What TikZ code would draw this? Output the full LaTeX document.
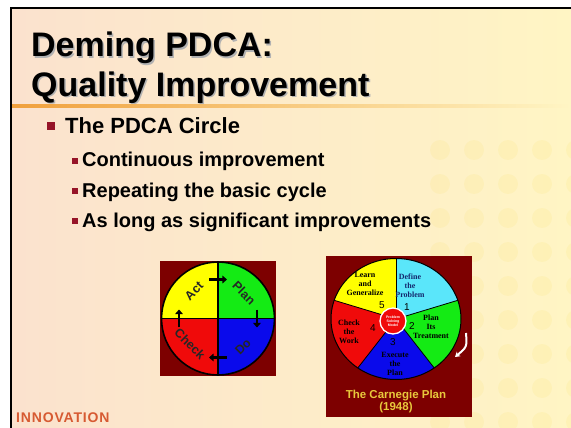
\documentclass[tikz,border=0pt]{standalone}
\usepackage{fontspec}
\setmainfont{Liberation Sans}
\newfontfamily\pieserif{Liberation Serif}
\usetikzlibrary{calc,arrows.meta}

\definecolor{bgleft}{RGB}{251,226,206}
\definecolor{bgright}{RGB}{255,245,196}
\definecolor{titleline}{RGB}{240,160,60}
\definecolor{bulletred}{RGB}{150,20,40}
\definecolor{boxred}{RGB}{125,0,0}
\definecolor{pieyellow}{RGB}{255,255,0}
\definecolor{piegreen}{RGB}{20,235,20}
\definecolor{pieblue}{RGB}{10,10,235}
\definecolor{piered}{RGB}{240,10,10}
\definecolor{piecyan}{RGB}{90,230,250}
\definecolor{carnegie}{RGB}{232,200,60}
\definecolor{innov}{RGB}{215,90,50}

\tikzset{
  slidetext/.style={anchor=base west, inner sep=0pt},
  bigbullet/.style={fill=bulletred, minimum size=8pt, inner sep=0pt},
  smallbullet/.style={fill=bulletred, minimum size=6pt, inner sep=0pt},
  quadlabel/.style={inner sep=0pt, text=black!85, font=\fontsize{12.5}{13}\selectfont\bfseries},
  pielabel/.style={inner sep=0pt, align=center, font=\pieserif\bfseries\fontsize{8}{9}\selectfont},
  pienum/.style={inner sep=0pt, font=\fontsize{10}{10}\selectfont},
  cyclearrow/.style={line width=2.8pt, -{Triangle[length=4.5pt,width=7.5pt]}}
}

\begin{document}
\begin{tikzpicture}[x=1pt,y=-1pt]

\useasboundingbox (0,0) rectangle (571,428);
\fill[white] (0,0) rectangle (571,428);
\shade[left color=bgleft, right color=bgright] (11,8) rectangle (571,428);
\foreach \i in {440,474,508,542,576}
  \foreach \j in {150,184,218,252,286,320,354,388,422}
    \fill[yellow!70!orange, opacity=0.07] (\i,\j) circle (10);

\shade[left color=titleline, right color=bgright] (11,104.5) rectangle (571,107.5);
\draw[line width=2.5pt] (11,428) -- (11,7.8) -- (571,7.8);

% title
\node (shadow1) at (32.5,58.5) [slidetext, text=black!30, font=\fontsize{34}{36}\selectfont\bfseries] {Deming PDCA:};
\node (shadow2) at (32.5,97.5) [slidetext, text=black!30, font=\fontsize{34}{36}\selectfont\bfseries] {Quality Improvement};
\node (title1) at (31,57) [slidetext, font=\fontsize{34}{36}\selectfont\bfseries] {Deming PDCA:};
\node (title2) at (31,96) [slidetext, font=\fontsize{34}{36}\selectfont\bfseries] {Quality Improvement};

% bullets
\node (b0) at (51,126.5) [bigbullet] {};
\node (t0) at (65,133) [slidetext, font=\fontsize{22}{24}\selectfont\bfseries] {The PDCA Circle};
\node (b1) at (75,160.5) [smallbullet] {};
\node (t1) at (82,167) [slidetext, font=\fontsize{20}{22}\selectfont\bfseries] {Continuous improvement};
\node (b2) at (75,190.5) [smallbullet] {};
\node (t2) at (82,197) [slidetext, font=\fontsize{20}{22}\selectfont\bfseries] {Repeating the basic cycle};
\node (b3) at (75,220.5) [smallbullet] {};
\node (t3) at (82,227) [slidetext, font=\fontsize{20}{22}\selectfont\bfseries] {As long as significant improvements};

% PDCA wheel
\fill[boxred] (160,261) rectangle (276,376);
\begin{scope}[shift={(218,318.5)},y=1pt]
  \fill[pieyellow] (0,0) -- (90:56.5) arc[start angle=90,end angle=180,radius=56.5] -- cycle;
  \fill[piered] (0,0) -- (180:56.5) arc[start angle=180,end angle=270,radius=56.5] -- cycle;
  \fill[pieblue] (0,0) -- (270:56.5) arc[start angle=270,end angle=360,radius=56.5] -- cycle;
  \fill[piegreen] (0,0) -- (0:56.5) arc[start angle=0,end angle=90,radius=56.5] -- cycle;
  \draw[line width=1.2pt] (90:56.5) -- (270:56.5) (0:56.5) -- (180:56.5);
  \draw[line width=1.6pt] (0,0) circle (56.5);
  \draw[cyclearrow] (103:40) -- (77:40);
  \draw[cyclearrow] (13:40) -- (-13:40);
  \draw[cyclearrow] (-77:40) -- (-103:40);
  \draw[cyclearrow] (193:40) -- (167:40);
\end{scope}
\node (act) at (194,291) [quadlabel, rotate=45] {Act};
\node (plan) at (244,293) [quadlabel, rotate=-45] {Plan};
\node (do) at (243,347) [quadlabel, rotate=45] {Do};
\node (check) at (190,344) [quadlabel, rotate=-45] {Check};

% Carnegie wheel
\fill[boxred] (326,256) rectangle (472,417);
\begin{scope}[shift={(396,319)},y=1pt]
  \fill[piecyan] (0,0) -- (18:65 and 60.5) arc[start angle=18,end angle=90,x radius=65,y radius=60.5] -- cycle;
  \fill[pieyellow] (0,0) -- (90:65 and 60.5) arc[start angle=90,end angle=162,x radius=65,y radius=60.5] -- cycle;
  \fill[piered] (0,0) -- (162:65 and 60.5) arc[start angle=162,end angle=234,x radius=65,y radius=60.5] -- cycle;
  \fill[pieblue] (0,0) -- (234:65 and 60.5) arc[start angle=234,end angle=306,x radius=65,y radius=60.5] -- cycle;
  \fill[piegreen] (0,0) -- (306:65 and 60.5) arc[start angle=306,end angle=378,x radius=65,y radius=60.5] -- cycle;
  \foreach \a in {18,90,162,234,306}
    \draw[line width=0.8pt] (0,0) -- (\a:65 and 60.5);
  \draw[line width=1pt] (0,0) ellipse[x radius=65,y radius=60.5];
  \fill[piered, draw=white, line width=1.3pt] (-3,-2) circle (13);
\end{scope}
\node (psm) at (393,321) [inner sep=0pt, align=center, text=white, font=\fontsize{3.5}{4}\selectfont\bfseries] {Problem\\Solving\\Model};
\node (learn) at (365,284) [pielabel] {Learn\\and\\Generalize};
\node (define) at (410,286) [pielabel, text={rgb,255:red,20;green,40;blue,110}] {Define\\the\\Problem};
\node (treat) at (431,327) [pielabel] {Plan\\Its\\Treatment};
\node (execute) at (395,364) [pielabel] {Execute\\the\\Plan};
\node (checkw) at (349,332) [pielabel] {Check\\the\\Work};
\node (n1) at (407,307) [pienum] {1};
\node (n2) at (412,326) [pienum] {2};
\node (n3) at (393,342) [pienum] {3};
\node (n4) at (373,328) [pienum] {4};
\node (n5) at (382,305) [pienum] {5};
\coordinate (turnA) at (466,333);
\coordinate (turnB) at (455,357);
\draw[white, line width=2pt, -{Stealth[length=5pt,width=6pt]}] (turnA) .. controls (467,347) .. (turnB);
\node (carn) at (396,396) [inner sep=0pt, text=carnegie, font=\fontsize{11.5}{12}\selectfont\bfseries] {The Carnegie Plan};
\node (year) at (396,408) [inner sep=0pt, text=carnegie, font=\fontsize{11.5}{12}\selectfont\bfseries] {(1948)};

\node (innov) at (16,422) [slidetext, text=innov, font=\fontsize{14}{14}\selectfont\bfseries\addfontfeature{LetterSpace=6}] {INNOVATION};

\end{tikzpicture}
\end{document}
